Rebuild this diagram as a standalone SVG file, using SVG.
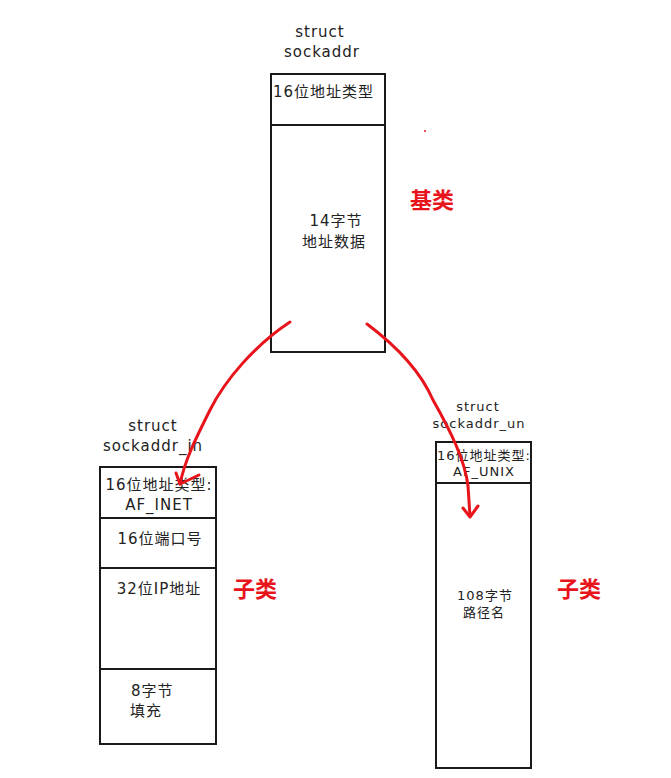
<svg xmlns="http://www.w3.org/2000/svg" width="671" height="778" viewBox="0 0 671 778">
<style>
text{font-family:"DejaVu Sans","Noto Sans CJK SC",sans-serif;font-size:15px;letter-spacing:1px;fill:#222}
.box{fill:#fff;stroke:#1a1a1a;stroke-width:2}
.ln{stroke:#1a1a1a;stroke-width:2}
.red{font-size:22px;fill:#e8141c;font-weight:bold;letter-spacing:0}
.arr{fill:none;stroke:#e8141c;stroke-width:3;stroke-linecap:round;stroke-linejoin:round}
.sm{font-size:13px}
</style>
<rect width="671" height="778" fill="#fff"/>
<g id="sockaddr">
<text x="320" y="37" text-anchor="middle">struct</text>
<text x="322" y="57" text-anchor="middle">sockaddr</text>
<rect class="box" x="271" y="74" width="114" height="278"/>
<line class="ln" x1="271" y1="125" x2="385" y2="125"/>
<text x="273" y="97">16位地址类型</text>
<text x="336" y="226" text-anchor="middle">14字节</text>
<text x="334" y="247" text-anchor="middle">地址数据</text>
</g>
<g id="base-label">
<text class="red" x="410" y="208">基类</text>
<circle cx="425" cy="131" r="1" fill="#e8141c"/>
</g>
<g id="sockaddr_in">
<text x="153" y="431" text-anchor="middle">struct</text>
<text x="153" y="451" text-anchor="middle">sockaddr_in</text>
<rect class="box" x="100" y="467" width="116" height="277"/>
<line class="ln" x1="100" y1="518" x2="216" y2="518"/>
<line class="ln" x1="100" y1="568" x2="216" y2="568"/>
<line class="ln" x1="100" y1="669" x2="216" y2="669"/>
<text x="159" y="490" text-anchor="middle">16位地址类型:</text>
<text x="159" y="510" text-anchor="middle">AF_INET</text>
<text x="160" y="544" text-anchor="middle">16位端口号</text>
<text x="159" y="594" text-anchor="middle">32位IP地址</text>
<text x="131" y="696">8字节</text>
<text x="130" y="716">填充</text>
</g>
<g id="sockaddr_un">
<text class="sm" x="478" y="411" text-anchor="middle">struct</text>
<text class="sm" x="479" y="428" text-anchor="middle">sockaddr_un</text>
<rect class="box" x="436" y="442" width="95" height="326"/>
<line class="ln" x1="436" y1="483" x2="531" y2="483"/>
<text class="sm" x="484" y="460" text-anchor="middle">16位地址类型:</text>
<text class="sm" x="484" y="476" text-anchor="middle">AF_UNIX</text>
<text class="sm" x="485" y="600" text-anchor="middle">108字节</text>
<text class="sm" x="484" y="617" text-anchor="middle">路径名</text>
</g>
<g id="child-labels">
<text class="red" x="233" y="597">子类</text>
<text class="red" x="557" y="597">子类</text>
</g>
<g id="connectors">
<path class="arr" d="M290,322 C255,345 225,380 210,410 C195,440 185,460 180,484"/>
<path class="arr" d="M176,473 L180,484 L199,475"/>
<path class="arr" d="M367,324 C395,345 420,370 433,400 C450,430 465,460 468,486 L470,516"/>
<path class="arr" d="M463,508 L470,517 L478,506"/>
</g>
</svg>
